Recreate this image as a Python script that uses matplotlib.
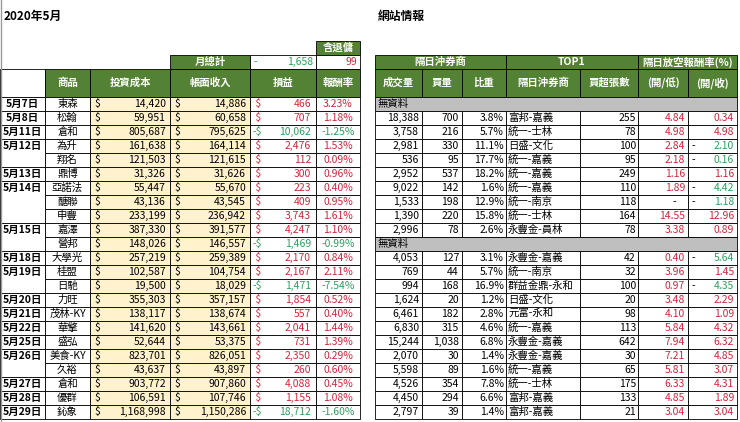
import matplotlib
matplotlib.use('Agg')
import matplotlib.pyplot as plt
from matplotlib.patches import Rectangle

plt.rcParams['font.family'] = ['Noto Sans CJK TC', 'DejaVu Sans']

# ---- left table data ----
dates = ['5月7日', '5月8日', '5月11日', '5月12日', '', '5月13日', '5月14日', '', '', '5月15日', '',
         '5月18日', '5月19日', '', '5月20日', '5月21日', '5月22日', '5月25日', '5月26日', '', '5月27日',
         '5月28日', '5月29日']
stocks = ['東森', '松翰', '倉和', '為升', '翔名', '鼎博', '亞諾法', '醣聯', '申豐', '嘉澤', '營邦',
          '大學光', '桂盟', '日馳', '力旺', '茂林-KY', '華擎', '盛弘', '美食-KY', '久裕', '倉和',
          '優群', '鈊象']
cost = [14420, 59951, 805687, 161638, 121503, 31326, 55447, 43136, 233199, 387330, 148026,
        257219, 102587, 19500, 355303, 138117, 141620, 52644, 823701, 43637, 903772, 106591, 1168998]
income = [14886, 60658, 795625, 164114, 121615, 31626, 55670, 43545, 236942, 391577, 146557,
          259389, 104754, 18029, 357157, 138674, 143661, 53375, 826051, 43897, 907860, 107746, 1150286]
pnl = [466, 707, -10062, 2476, 112, 300, 223, 409, 3743, 4247, -1469,
       2170, 2167, -1471, 1854, 557, 2041, 731, 2350, 260, 4088, 1155, -18712]
ret = [3.23, 1.18, -1.25, 1.53, 0.09, 0.96, 0.40, 0.95, 1.61, 1.10, -0.99,
       0.84, 2.11, -7.54, 0.52, 0.40, 1.44, 1.39, 0.29, 0.60, 0.45, 1.08, -1.60]
month_total = -1658
rebate = 99

# ---- right table data (None row = 無資料) ----
volume = [None, 18388, 3758, 2981, 536, 2952, 9022, 1533, 1390, 2996, None,
          4053, 769, 994, 1624, 6461, 6830, 15244, 2070, 5598, 4526, 4450, 2797]
buy = [None, 700, 216, 330, 95, 537, 142, 198, 220, 78, None,
       127, 44, 168, 20, 182, 315, 1038, 30, 89, 354, 294, 39]
share = [None, 3.8, 5.7, 11.1, 17.7, 18.2, 1.6, 12.9, 15.8, 2.6, None,
         3.1, 5.7, 16.9, 1.2, 2.8, 4.6, 6.8, 1.4, 1.6, 7.8, 6.6, 1.4]
broker = [None, '富邦-嘉義', '統一-士林', '日盛-文化', '統一-嘉義', '統一-嘉義', '統一-嘉義', '統一-南京',
          '統一-士林', '永豐金-員林', None, '永豐金-嘉義', '統一-南京', '群益金鼎-永和', '日盛-文化',
          '元富-永和', '統一-嘉義', '永豐金-嘉義', '永豐金-嘉義', '統一-嘉義', '統一-士林', '富邦-嘉義', '富邦-嘉義']
net_buy = [None, 255, 78, 100, 95, 249, 110, 118, 164, 78, None,
           42, 32, 100, 20, 98, 113, 642, 30, 65, 175, 133, 21]
open_low = [None, 4.84, 4.98, 2.84, 2.18, 1.16, 1.89, 0, 14.55, 3.38, None,
            0.40, 3.96, 0.97, 3.48, 4.10, 5.84, 7.94, 7.21, 5.81, 6.33, 4.85, 3.04]
open_close = [None, 0.34, 4.98, -2.10, -0.16, 1.16, -4.42, -1.18, 12.96, 0.89, None,
              -5.64, 1.45, -4.35, 2.29, 1.09, 4.32, 6.32, 4.85, 3.07, 4.31, 1.89, 3.04]

GREEN_H = '#548235'
YELLOW = '#fff2cc'
GRAY = '#bfbfbf'
RED = '#d0263a'
GRN = '#2f9e5f'
FS = 7.5

fig = plt.figure(figsize=(7.4, 4.22), dpi=100)
ax = fig.add_axes([0, 0, 1, 1])
ax.set_xlim(0, 740)
ax.set_ylim(422, 0)
ax.axis('off')


def cell(x0, x1, y0, y1, fc='white', ec='black', lw=0.6):
    ax.add_patch(Rectangle((x0, y0), x1 - x0, y1 - y0, facecolor=fc, edgecolor=ec, lw=lw))


def txt(x, y, s, ha='center', color='black', bold=False, fs=FS):
    ax.text(x, y, s, ha=ha, va='center', color=color, fontsize=fs,
            fontweight='bold' if bold else 'normal')


def sgn_color(v):
    return RED if v > 0 else (GRN if v < 0 else 'black')


ax.plot([1, 1], [0, 422], color='#999999', lw=1)
txt(4, 16, '2020年5月', ha='left', bold=True, fs=8.5)
txt(378, 16, '網站情報', ha='left', bold=True, fs=8.5)

RH = 14
Y0 = 97

# left header
LX = [0, 45, 90, 170, 250, 316, 360]
cell(316, 360, 41, 55, GREEN_H)
txt(338, 48, '含退傭', color='white', bold=True)
cell(170, 250, 55, 69, GREEN_H)
txt(210, 62, '月總計', color='white', bold=True)
cell(250, 316, 55, 69)
txt(254, 62, '-', ha='left', color=GRN)
txt(313, 62, f'{abs(month_total):,}', ha='right', color=GRN)
cell(316, 360, 55, 69)
txt(357, 62, f'{rebate}', ha='right', color=RED)
cell(0, 45, 69, 97)
for i, h in enumerate(['商品', '投資成本', '帳面收入', '損益', '報酬率']):
    cell(LX[i + 1], LX[i + 2], 69, 97, GREEN_H)
    txt((LX[i + 1] + LX[i + 2]) / 2, 83, h, color='white', bold=True)

n = len(stocks)
# date column with merged groups
starts = [i for i, d in enumerate(dates) if d] + [n]
for a, b in zip(starts[:-1], starts[1:]):
    cell(0, 45, Y0 + a * RH, Y0 + b * RH)
    txt(22.5, Y0 + a * RH + RH / 2, dates[a], bold=True)
for i in range(n):
    y0 = Y0 + i * RH
    yc = y0 + RH / 2
    cell(45, 90, y0, y0 + RH)
    txt(67.5, yc, stocks[i])
    cell(90, 170, y0, y0 + RH, YELLOW)
    txt(94, yc, '$', ha='left')
    txt(166, yc, f'{cost[i]:,}', ha='right')
    cell(170, 250, y0, y0 + RH, YELLOW)
    txt(174, yc, '$', ha='left')
    txt(246, yc, f'{income[i]:,}', ha='right')
    c = sgn_color(pnl[i])
    cell(250, 316, y0, y0 + RH)
    txt(253, yc, '-$' if pnl[i] < 0 else ' $', ha='left', color=c)
    txt(311, yc, f'{abs(pnl[i]):,}', ha='right', color=c)
    cell(316, 360, y0, y0 + RH)
    txt(338, yc, f'{ret[i]:.2f}%', color=sgn_color(ret[i]))

# right header
RX = [375, 422, 462, 506, 580, 638, 688, 737]
for (a, b, s) in [(375, 506, '隔日沖券商'), (506, 638, 'TOP1'), (638, 737, '隔日放空報酬率(%)')]:
    cell(a, b, 55, 69, GREEN_H)
    txt((a + b) / 2, 62, s, color='white', bold=True)
for i, h in enumerate(['成交量', '買量', '比重', '隔日沖券商', '買超張數', '(開/低)', '(開/收)']):
    cell(RX[i], RX[i + 1], 69, 97, GREEN_H)
    txt((RX[i] + RX[i + 1]) / 2, 83, h, color='white', bold=True)

for i in range(len(volume)):
    y0 = Y0 + i * RH
    yc = y0 + RH / 2
    if volume[i] is None:
        cell(375, 737, y0, y0 + RH, GRAY)
        txt(378, yc, '無資料', ha='left')
        continue
    for k in range(7):
        cell(RX[k], RX[k + 1], y0, y0 + RH)
    txt(RX[1] - 3, yc, f'{volume[i]:,}', ha='right')
    txt(RX[2] - 3, yc, f'{buy[i]:,}', ha='right')
    txt(RX[3] - 2, yc, f'{share[i]:.1f}%', ha='right')
    txt(RX[3] + 2, yc, broker[i], ha='left')
    txt(RX[5] - 2, yc, f'{net_buy[i]}', ha='right')
    for k, v in [(5, open_low[i]), (6, open_close[i])]:
        if v == 0:
            txt(RX[k + 1] - 14, yc, '-')
            continue
        if v < 0:
            txt(RX[k] + 4, yc, '-', ha='left')
        txt(RX[k + 1] - 3, yc, f'{abs(v):.2f}', ha='right', color=sgn_color(v))

fig.savefig('out.png', dpi=100)
plt.close(fig)
